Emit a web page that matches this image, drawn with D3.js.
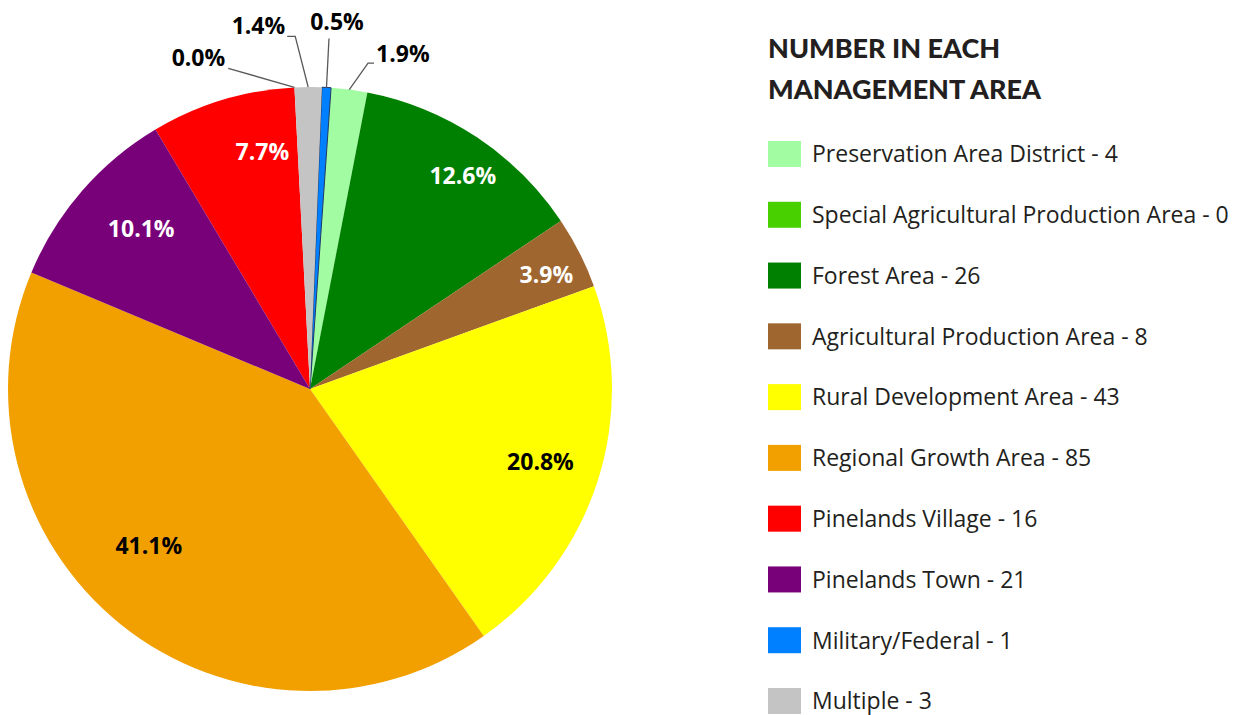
<!DOCTYPE html>
<html>
<head>
<meta charset="utf-8">
<script src="https://cdn.jsdelivr.net/npm/d3@7"></script>
<style>
  body { margin: 0; background: #fff; }
  svg { display: block; }
</style>
</head>
<body>
<div id="chart"></div>
<script>
// categories (legend order) and counts
const areas = [
  "Preservation Area District",
  "Special Agricultural Production Area",
  "Forest Area",
  "Agricultural Production Area",
  "Rural Development Area",
  "Regional Growth Area",
  "Pinelands Village",
  "Pinelands Town",
  "Military/Federal",
  "Multiple"
];
const counts = [4, 0, 26, 8, 43, 85, 16, 21, 1, 3];
const colors = ["#a2fca2", "#48d000", "#008000", "#a0662f", "#ffff00",
                "#f2a000", "#ff0000", "#780078", "#0080ff", "#c4c4c4"];
// order the slices run clockwise around the pie
const pieOrder = [
  "Preservation Area District", "Forest Area", "Agricultural Production Area",
  "Rural Development Area", "Regional Growth Area", "Pinelands Town",
  "Pinelands Village", "Special Agricultural Production Area", "Multiple",
  "Military/Federal"
];
const title = ["NUMBER IN EACH", "MANAGEMENT AREA"];

const width = 1245, height = 715;
const cx = 310, cy = 389, radius = 302;

const svg = d3.select("#chart").append("svg")
  .attr("width", width)
  .attr("height", height);

const data = areas.map((name, i) => ({name: name, value: counts[i], color: colors[i]}));
const total = d3.sum(counts);
const fmt = v => (v / total * 100).toFixed(1) + "%";
const rad = a => a * Math.PI / 180;

const pie = d3.pie()
  .value(d => d.value)
  .sort((a, b) => pieOrder.indexOf(a.name) - pieOrder.indexOf(b.name))
  .startAngle(rad(4))
  .endAngle(rad(4) + 2 * Math.PI);

const arcs = pie(data);
const arc = d3.arc().innerRadius(0).outerRadius(radius);

const g = svg.append("g").attr("transform", `translate(${cx},${cy})`);

g.selectAll("path.slice")
  .data(arcs)
  .join("path")
  .attr("class", "slice")
  .attr("d", arc)
  .attr("fill", d => d.data.color)
  .attr("stroke", d => d.data.name == "Military/Federal" ? "#1f3864" : "none")
  .attr("stroke-width", 1);

// inside labels for the bigger slices (best-fit style: radius share, angle nudge)
const innerLayout = {
  "Forest Area": {f: 0.87, da: 2},
  "Agricultural Production Area": {f: 0.87, da: 1},
  "Rural Development Area": {f: 0.80, da: 0},
  "Regional Growth Area": {f: 0.745, da: 7},
  "Pinelands Town": {f: 0.77, da: 2.5},
  "Pinelands Village": {f: 0.80, da: 5.5}
};
const darkText = ["Rural Development Area", "Regional Growth Area"];
const inner = arcs.filter(d => innerLayout[d.data.name]);

g.selectAll("text.inner")
  .data(inner)
  .join("text")
  .attr("class", "inner")
  .attr("transform", d => {
    const L = innerLayout[d.data.name];
    const a = (d.startAngle + d.endAngle) / 2 + rad(L.da);
    return `translate(${Math.sin(a) * radius * L.f},${-Math.cos(a) * radius * L.f})`;
  })
  .attr("text-anchor", "middle")
  .attr("dy", "0.36em")
  .style("font-family", "'Open Sans', sans-serif")
  .style("font-weight", 700)
  .style("font-size", "23px")
  .style("fill", d => darkText.includes(d.data.name) ? "#000" : "#fff")
  .text(d => fmt(d.value));

// outside labels with leader lines for the thin slices
const outerLayout = {
  "Special Agricultural Production Area": {ang: -14.3, r: 331, anchor: "end", dx: -3, dy: -2, hook: 0},
  "Multiple": {ang: -2.4, r: 353, anchor: "end", dx: -10, dy: -2, hook: -8},
  "Military/Federal": {ang: 3.1, r: 351, anchor: "middle", dx: 8, dy: -9, hook: 0},
  "Preservation Area District": {ang: 10.1, r: 331, anchor: "start", dx: 8, dy: -1, hook: 6}
};
const outer = arcs.filter(d => outerLayout[d.data.name]);

outer.forEach(d => {
  const L = outerLayout[d.data.name];
  const mid = (d.startAngle + d.endAngle) / 2;
  const p0 = [Math.sin(mid) * radius, -Math.cos(mid) * radius];
  const p1 = [Math.sin(rad(L.ang)) * L.r, -Math.cos(rad(L.ang)) * L.r];
  const p2 = [p1[0] + L.hook, p1[1]];
  g.append("path")
    .attr("d", d3.line()([p0, p1, p2]))
    .attr("fill", "none")
    .attr("stroke", "#595959")
    .attr("stroke-width", 1.3);
  g.append("text")
    .attr("x", p1[0] + L.dx)
    .attr("y", p1[1] + L.dy)
    .attr("text-anchor", L.anchor)
    .style("font-family", "'Open Sans', sans-serif")
    .style("font-weight", 700)
    .style("font-size", "23px")
    .style("fill", "#000")
    .text(fmt(d.value));
});

// legend
const legend = svg.append("g").attr("transform", "translate(768,0)");

legend.selectAll("text.title")
  .data(title)
  .join("text")
  .attr("class", "title")
  .attr("x", 0)
  .attr("y", (d, i) => 58 + i * 41)
  .style("font-family", "Lato, sans-serif")
  .style("font-weight", 900)
  .style("font-size", "27px")
  .style("fill", "#231f20")
  .text(d => d);

const ly = d3.scalePoint().domain(areas).range([154, 701]);

const item = legend.selectAll("g.item")
  .data(data)
  .join("g")
  .attr("class", "item")
  .attr("transform", d => `translate(0,${ly(d.name)})`);

item.append("rect")
  .attr("x", 0)
  .attr("y", -13)
  .attr("width", 33)
  .attr("height", 26)
  .attr("fill", d => d.color);

item.append("text")
  .attr("x", 44)
  .attr("y", 0)
  .attr("dy", "0.36em")
  .style("font-family", "'Open Sans', sans-serif")
  .style("font-size", "23px")
  .style("fill", "#231f20")
  .text(d => `${d.name} - ${d.value}`);
</script>
</body>
</html>
